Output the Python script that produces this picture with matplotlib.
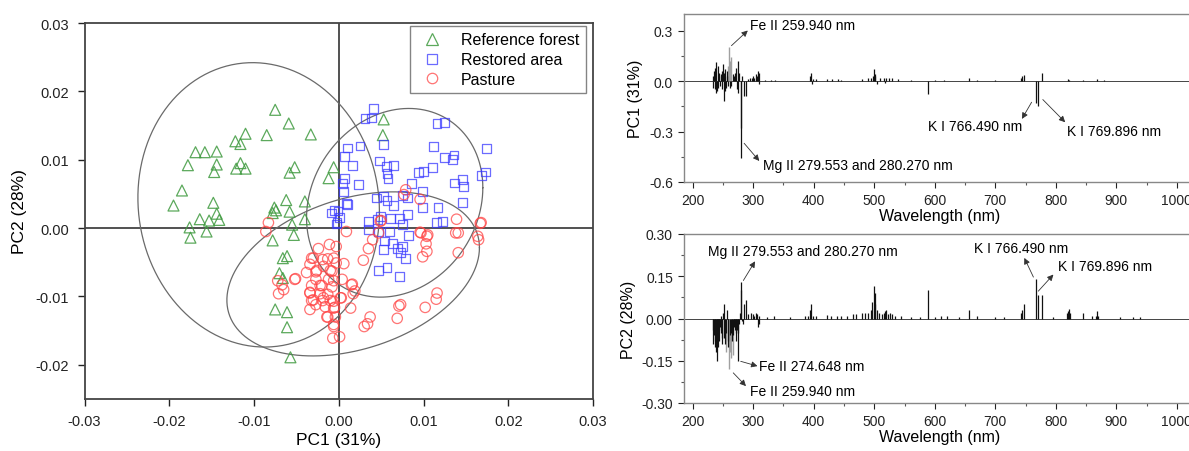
import numpy as np
import matplotlib
matplotlib.use("Agg")
import matplotlib.pyplot as plt
from matplotlib.ticker import MultipleLocator, FormatStrFormatter
from matplotlib.lines import Line2D

plt.rcParams['font.family'] = ['Liberation Sans', 'DejaVu Sans']
plt.rcParams['axes.unicode_minus'] = False

# ---------------- scatter data (PC1, PC2 scores) ----------------
forest_pc1 = [-0.0075, -0.0059, -0.0110, -0.0085, -0.0033, -0.0122, -0.0116, -0.0169, -0.0158, -0.0144,
              -0.0178, -0.0144, -0.0147, -0.0116, -0.0121, -0.0110, -0.0052, -0.0058, -0.0006, -0.0012,
              -0.0185, -0.0195, -0.0148, -0.0144, -0.0153, -0.0141, -0.0164, -0.0176, -0.0156, -0.0175,
              -0.0062, -0.0040, -0.0076, -0.0078, -0.0058, -0.0040, -0.0055, -0.0053, -0.0078, -0.0066,
              -0.0061, -0.0070, -0.0066, -0.0075, -0.0061, -0.0061, -0.0057, 0.0053, 0.0052, -0.0074]
forest_pc2 = [0.0173, 0.0153, 0.0138, 0.0136, 0.0137, 0.0127, 0.0123, 0.0111, 0.0111, 0.0112,
              0.0092, 0.0093, 0.0082, 0.0095, 0.0087, 0.0087, 0.0089, 0.0081, 0.0089, 0.0073,
              0.0055, 0.0033, 0.0037, 0.0021, 0.0011, 0.0012, 0.0013, 0.0001, -0.0005, -0.0014,
              0.0041, 0.0039, 0.0030, 0.0022, 0.0024, 0.0013, 0.0005, -0.0010, -0.0018, -0.0044,
              -0.0041, -0.0066, -0.0073, -0.0119, -0.0123, -0.0145, -0.0189, 0.0159, 0.0136, 0.0026]

restored_pc1 = [0.0041, 0.0031, 0.0039, 0.0116, 0.0125, 0.0010, 0.0025, 0.0053, 0.0112, 0.0174,
                0.0007, 0.0125, 0.0136, 0.0134, 0.0016, 0.0048, 0.0056, 0.0065, 0.0111, 0.0057,
                0.0058, 0.0094, 0.0100, 0.0173, 0.0168, 0.0007, 0.0004, 0.0023, 0.0086, 0.0137,
                0.0146, 0.0147, 0.0006, 0.0099, 0.0045, 0.0053, 0.0057, 0.0065, 0.0075, 0.0081,
                0.0010, 0.0099, 0.0117, 0.0146, -0.0009, -0.0001, -0.0002, 0.0035, 0.0046, 0.0061,
                0.0072, 0.0081, 0.0075, 0.0115, 0.0122, 0.0035, 0.0047, 0.0060, 0.0082, 0.0001,
                -0.0003, 0.0049, 0.0054, 0.0063, 0.0053, 0.0075, 0.0073, 0.0079, 0.0069, 0.0057,
                0.0047, 0.0072, -0.0005, 0.0009]
restored_pc2 = [0.0175, 0.0160, 0.0161, 0.0153, 0.0154, 0.0117, 0.0120, 0.0122, 0.0119, 0.0116,
                0.0105, 0.0103, 0.0107, 0.0100, 0.0091, 0.0098, 0.0090, 0.0091, 0.0089, 0.0080,
                0.0073, 0.0081, 0.0083, 0.0082, 0.0077, 0.0072, 0.0065, 0.0064, 0.0065, 0.0066,
                0.0071, 0.0061, 0.0053, 0.0053, 0.0044, 0.0046, 0.0040, 0.0033, 0.0048, 0.0044,
                0.0034, 0.0030, 0.0030, 0.0037, 0.0022, 0.0025, 0.0008, 0.0010, 0.0012, 0.0014,
                0.0014, 0.0020, 0.0005, 0.0008, 0.0010, -0.0002, -0.0005, -0.0005, -0.0011, 0.0015,
                0.0006, 0.0017, -0.0019, -0.0022, -0.0031, -0.0027, -0.0036, -0.0044, -0.0030, -0.0058,
                -0.0062, -0.0071, 0.0026, 0.0036]

pasture_pc1 = [0.0009, 0.0049, 0.0047, 0.0040, 0.0035, 0.0029, 0.0097, 0.0104, 0.0103, 0.0104,
               0.0099, 0.0138, 0.0141, 0.0141, 0.0167, 0.0165, 0.0116, 0.0115, 0.0102, 0.0073,
               0.0071, 0.0069, 0.0037, 0.0034, 0.0030, 0.0014, 0.0017, 0.0015, 0.0003, 0.0004,
               0.0006, -0.0006, -0.0003, -0.0011, -0.0024, -0.0013, -0.0030, -0.0034, -0.0038, -0.0026,
               -0.0018, -0.0008, -0.0027, -0.0020, -0.0008, -0.0034, -0.0030, -0.0018, -0.0006, -0.0034,
               -0.0016, -0.0006, -0.0014, -0.0006, -0.0007, 0.0001, -0.0051, -0.0083, -0.0086, -0.0032,
               -0.0019, -0.0003, -0.0027, -0.0010, -0.0012, -0.0006, -0.0052, -0.0072, -0.0067, -0.0065,
               -0.0071, -0.0032, -0.0022, -0.0034, -0.0022, -0.0013, -0.0032, -0.0019, -0.0010, 0.0002,
               0.0016, 0.0019, -0.0027, -0.0013, -0.0005, -0.0004, -0.0006, 0.0079, 0.0077, 0.0096,
               0.0139, 0.0168, 0.0050, 0.0096, 0.0105, 0.0164]
pasture_pc2 = [-0.0005, 0.0010, -0.0007, -0.0017, -0.0030, -0.0047, -0.0007, -0.0012, -0.0023, -0.0034,
               -0.0042, -0.0007, -0.0007, -0.0036, 0.0007, -0.0017, -0.0095, -0.0104, -0.0116, -0.0112,
               -0.0114, -0.0132, -0.0130, -0.0140, -0.0144, -0.0117, -0.0096, -0.0083, -0.0102, -0.0075,
               -0.0052, -0.0044, -0.0027, -0.0024, -0.0030, -0.0045, -0.0044, -0.0053, -0.0065, -0.0062,
               -0.0056, -0.0063, -0.0075, -0.0084, -0.0086, -0.0095, -0.0105, -0.0102, -0.0107, -0.0119,
               -0.0115, -0.0117, -0.0130, -0.0141, -0.0161, -0.0159, -0.0074, 0.0008, -0.0005, -0.0044,
               -0.0046, -0.0051, -0.0064, -0.0062, -0.0075, -0.0077, -0.0075, -0.0077, -0.0083, -0.0090,
               -0.0096, -0.0084, -0.0084, -0.0094, -0.0096, -0.0097, -0.0106, -0.0106, -0.0106, -0.0102,
               -0.0082, -0.0092, -0.0112, -0.0130, -0.0116, -0.0130, -0.0144, 0.0056, 0.0049, 0.0042,
               0.0013, 0.0008, 0.0011, -0.0006, -0.0010, -0.0012]

# confidence ellipses: centre x, centre y, half-extent x, half-extent y, correlation
ell_cx = [-0.00945, 0.0066, 0.0017]
ell_cy = [0.0034, 0.0037, -0.0067]
ell_ax = [0.01425, 0.0104, 0.0149]
ell_ay = [0.0208, 0.0138, 0.0120]
ell_r = [-0.05, 0.16, 0.32]

# ---------------- loadings spectra (peaks: wavelength nm, loading) ----------------
pc1_wl = [233, 234, 235, 236, 237, 238, 239, 240, 241, 242, 243, 244, 245, 246, 248, 249, 250, 251,
          252, 253, 254, 255, 256, 257, 258, 262, 264, 266, 268, 270, 272, 273, 274.6, 275.5, 276,
          279.55, 280.27, 281, 285.2, 288.2, 292, 295, 298, 300, 302, 304, 306, 308.2, 309.3, 310,
          320, 330, 336, 394.4, 396.2, 397, 399, 404, 422.7, 430, 440, 445, 480, 490, 495, 498,
          499.5, 500.5, 502, 504, 510, 516, 518, 520, 525, 530, 540, 560, 589, 600, 615, 656.3,
          670, 700, 742, 744, 746.8, 766.5, 769.9, 777.4, 820, 822, 844.6, 868, 880, 906, 940]
pc1_val = [0.03, -0.04, 0.06, -0.05, 0.08, -0.07, 0.115, -0.06, 0.09, -0.04, 0.05, 0.03, -0.03, 0.04,
           0.06, -0.05, 0.10, -0.12, 0.05, -0.06, 0.07, -0.04, 0.03, 0.06, -0.03, -0.04, -0.03, 0.04,
           0.03, 0.05, 0.08, -0.05, 0.12, -0.07, 0.05, -0.46, -0.28, 0.03, -0.09, -0.09, 0.01, 0.02,
           0.02, 0.03, 0.02, 0.04, 0.03, 0.06, 0.05, -0.02, 0.005, 0.005, 0.005, 0.03, 0.05, -0.02,
           0.01, 0.01, 0.01, 0.01, 0.01, 0.008, 0.01, 0.015, 0.02, 0.03, 0.07, 0.04, 0.03, -0.02,
           0.015, 0.02, -0.01, 0.02, 0.02, 0.015, 0.01, 0.005, -0.08, 0.005, 0.005, 0.015, 0.005,
           0.005, 0.02, 0.03, 0.035, -0.13, -0.15, 0.045, 0.01, 0.008, 0.008, 0.01, 0.005, 0.003,
           0.003]
pc1_gray_wl = [259.0, 259.94, 261.0, 263.0]
pc1_gray_val = [0.09, 0.20, 0.12, 0.14]

pc2_wl = [233, 234, 235, 236, 237, 238, 239.5, 240, 241, 242, 243, 244, 245, 246, 247, 248, 249,
          250, 251.5, 252.5, 253.5, 254.5, 256.5, 257.5, 258.5, 262, 264, 265, 267, 268, 269, 270,
          271, 272, 273, 274.6, 275.6, 276, 278, 279.55, 280.27, 281, 283, 285.2, 288.2, 292, 296,
          300, 302, 304, 306, 308, 309.3, 310, 322, 335, 360, 385, 390, 394.4, 396.2, 398, 404,
          422.7, 428, 438, 445, 455, 465, 470, 480, 485, 490, 495, 497, 499, 500.5, 502, 504, 508,
          512, 516, 518, 520, 522, 526, 530, 535, 545, 560, 575, 589, 600, 610, 620, 640, 656.3,
          670, 700, 715, 742, 744, 747.6, 766.5, 769.9, 777.4, 795, 818, 820, 822, 824, 844.6, 860,
          866, 868, 870, 906, 927, 939]
pc2_val = [-0.04, -0.09, -0.06, -0.10, -0.08, -0.12, -0.15, -0.07, -0.10, -0.05, -0.08, -0.04,
           -0.03, -0.05, 0.01, -0.07, -0.09, 0.02, 0.05, -0.07, -0.09, -0.05, 0.03, -0.10, -0.08,
           -0.06, -0.05, -0.08, -0.06, -0.03, -0.02, -0.04, -0.05, -0.08, -0.04, -0.15, -0.05, -0.02,
           0.02, 0.13, 0.10, -0.01, -0.02, 0.05, 0.065, 0.015, 0.02, 0.015, 0.01, 0.02, 0.015, -0.03,
           -0.02, 0.01, 0.005, 0.008, 0.005, 0.01, 0.01, 0.03, 0.05, 0.01, 0.01, 0.012, 0.01, 0.01,
           0.008, 0.01, 0.015, 0.015, 0.02, 0.02, 0.02, 0.03, 0.06, 0.115, 0.09, 0.05, 0.03, 0.02,
           0.015, 0.02, 0.025, 0.03, 0.015, 0.02, 0.015, 0.01, 0.01, 0.005, 0.005, 0.10, 0.005, 0.008,
           0.01, 0.005, 0.03, 0.01, 0.005, 0.005, 0.02, 0.03, 0.052, 0.142, 0.085, 0.082, 0.005, 0.02,
           0.025, 0.035, 0.02, 0.02, 0.008, 0.01, 0.025, 0.01, 0.005, 0.005, 0.006]
pc2_gray_wl = [255.5, 259.94, 261.0, 263.0, 266.0]
pc2_gray_val = [-0.12, -0.18, -0.12, -0.14, -0.13]

# ---------------- figure ----------------
W, H = 1189, 452
fig = plt.figure(figsize=(W / 100, H / 100), dpi=100)


def axes_px(x0, y0, x1, y1):
    return fig.add_axes([x0 / W, 1 - y1 / H, (x1 - x0) / W, (y1 - y0) / H])


# ---------- left: score plot ----------
ax = axes_px(84.5, 24, 593, 400)
ax.set_xlim(-0.03, 0.03)
ax.set_ylim(-0.025, 0.03)
ax.axhline(0, color='#222222', lw=1.1, zorder=1)
ax.axvline(0, color='#222222', lw=1.1, zorder=1)

t = np.linspace(0, 2 * np.pi, 400)
for cx, cy, axx, ayy, r in zip(ell_cx, ell_cy, ell_ax, ell_ay, ell_r):
    ex = cx + axx * np.cos(t)
    ey = cy + ayy * (r * np.cos(t) - np.sqrt(1 - r ** 2) * np.sin(t))
    ax.plot(ex, ey, color='#6a6a6a', lw=0.9, zorder=2)

c_green = '#3f9a3f'
c_blue = '#3a3aff'
c_red = '#ff4545'
ax.scatter(forest_pc1, forest_pc2, marker='^', s=62, facecolors='none', edgecolors=c_green,
           linewidths=0.9, alpha=0.85, zorder=3)
ax.scatter(restored_pc1, restored_pc2, marker='s', s=40, facecolors='none', edgecolors=c_blue,
           linewidths=0.9, alpha=0.75, zorder=3)
ax.scatter(pasture_pc1, pasture_pc2, marker='o', s=56, facecolors='none', edgecolors=c_red,
           linewidths=0.9, alpha=0.75, zorder=3)

ax.xaxis.set_major_locator(MultipleLocator(0.01))
ax.yaxis.set_major_locator(MultipleLocator(0.01))
ax.xaxis.set_major_formatter(FormatStrFormatter('%.2f'))
ax.yaxis.set_major_formatter(FormatStrFormatter('%.2f'))
ax.tick_params(direction='out', length=5, width=1.0, labelsize=10.5, colors='#222222', pad=6)
for sp in ax.spines.values():
    sp.set_color('#444444')
    sp.set_linewidth(1.3)
ax.set_xlabel('PC1 (31%)', fontsize=12.5, labelpad=3)
ax.set_ylabel('PC2 (28%)', fontsize=12.5, labelpad=6)

handles = [Line2D([], [], marker='^', ls='none', mfc='none', mec=c_green, ms=8, mew=0.9, alpha=0.85),
           Line2D([], [], marker='s', ls='none', mfc='none', mec=c_blue, ms=6.5, mew=0.9, alpha=0.75),
           Line2D([], [], marker='o', ls='none', mfc='none', mec=c_red, ms=7.5, mew=0.9, alpha=0.75)]
leg = ax.legend(handles, ['Reference forest', 'Restored area', 'Pasture'],
                loc='upper right', bbox_to_anchor=((586 - 84.5) / 508.5, (400 - 27) / 376),
                fontsize=11.5, frameon=True, fancybox=False, handletextpad=0.8,
                borderpad=0.4, labelspacing=0.3, handlelength=2.0, borderaxespad=0)
leg.get_frame().set_edgecolor('#666666')
leg.get_frame().set_linewidth(1.0)


# ---------- right panels ----------
def spectrum_axes(ax, wl, val, gwl, gval):
    ax.set_xlim(185.6, 1030)
    ax.axhline(0, color='#444444', lw=0.7, zorder=1)
    ax.vlines(gwl, 0, gval, color='#a0a0a0', lw=1.0, zorder=2)
    ax.vlines(wl, 0, val, color='#111111', lw=0.9, zorder=3)
    ax.xaxis.set_major_locator(MultipleLocator(100))
    ax.xaxis.set_minor_locator(MultipleLocator(50))
    ax.tick_params(which='major', direction='out', length=4, width=0.8, labelsize=10,
                   colors='#222222', pad=4)
    ax.tick_params(which='minor', direction='out', length=2.5, width=0.8, colors='#555555')
    for sp in ax.spines.values():
        sp.set_color('#888888')
        sp.set_linewidth(1.0)
    ax.spines['right'].set_visible(False)
    ax.set_xlabel('Wavelength (nm)', fontsize=11.5, labelpad=1)


def arrow(ax, tail, head):
    ax.annotate('', xy=head, xytext=tail,
                arrowprops=dict(arrowstyle='-|>', color='#333333', lw=0.6, mutation_scale=9,
                                shrinkA=0, shrinkB=0))


ax1 = axes_px(684, 14.7, 1195, 183)
ax1.set_ylim(-0.6, 0.4)
spectrum_axes(ax1, pc1_wl, pc1_val, pc1_gray_wl, pc1_gray_val)
ax1.yaxis.set_major_locator(MultipleLocator(0.3))
ax1.yaxis.set_minor_locator(MultipleLocator(0.15))
ax1.yaxis.set_major_formatter(FormatStrFormatter('%.1f'))
ax1.set_ylabel('PC1 (31%)', fontsize=11.5, labelpad=4)

fs_a = 10
ax1.text(295, 0.33, 'Fe II 259.940 nm', fontsize=fs_a, ha='left', va='center')
arrow(ax1, (264, 0.21), (291, 0.30))
ax1.text(316, -0.50, 'Mg II 279.553 and 280.270 nm', fontsize=fs_a, ha='left', va='center')
arrow(ax1, (285, -0.37), (310, -0.475))
ax1.text(588, -0.27, 'K I 766.490 nm', fontsize=fs_a, ha='left', va='center')
arrow(ax1, (760, -0.126), (744, -0.225))
ax1.text(819, -0.295, 'K I 769.896 nm', fontsize=fs_a, ha='left', va='center')
arrow(ax1, (778.5, -0.11), (815.5, -0.245))

ax2 = axes_px(684, 235, 1195, 404)
ax2.set_ylim(-0.3, 0.3)
spectrum_axes(ax2, pc2_wl, pc2_val, pc2_gray_wl, pc2_gray_val)
ax2.yaxis.set_major_locator(MultipleLocator(0.15))
ax2.yaxis.set_minor_locator(MultipleLocator(0.075))
ax2.yaxis.set_major_formatter(FormatStrFormatter('%.2f'))
ax2.set_ylabel('PC2 (28%)', fontsize=11.5, labelpad=4)

ax2.text(226, 0.241, 'Mg II 279.553 and 280.270 nm', fontsize=fs_a, ha='left', va='center')
arrow(ax2, (283.7, 0.135), (303, 0.203))
ax2.text(310, -0.169, 'Fe II 274.648 nm', fontsize=fs_a, ha='left', va='center')
arrow(ax2, (279.3, -0.152), (307, -0.169))
ax2.text(294, -0.256, 'Fe II 259.940 nm', fontsize=fs_a, ha='left', va='center')
arrow(ax2, (267, -0.193), (288, -0.24))
ax2.text(665, 0.251, 'K I 766.490 nm', fontsize=fs_a, ha='left', va='center')
arrow(ax2, (763, 0.147), (748, 0.215))
ax2.text(804, 0.186, 'K I 769.896 nm', fontsize=fs_a, ha='left', va='center')
arrow(ax2, (771, 0.097), (796, 0.156))

fig.savefig('out.png', dpi=100)
